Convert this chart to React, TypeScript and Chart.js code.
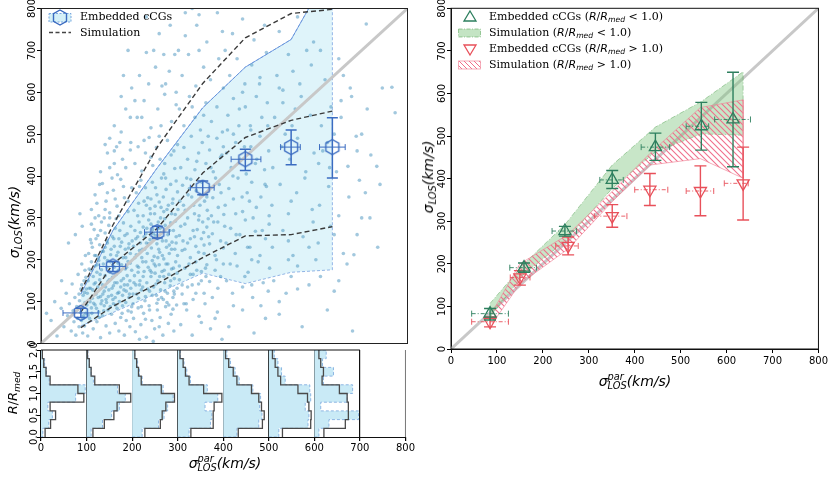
import { useEffect, useRef } from 'react';
import { Chart, registerables } from 'chart.js';

Chart.register(...registerables);
Chart.defaults.font.family = 'DejaVu Sans';
Chart.defaults.color = '#000';

// ---- left panel: embedded cCGs per sigma_par bin ----
const binX = [87, 157, 254, 353, 446, 546, 636];
const obsY = [73, 184, 266, 372, 440, 469, 469];
const obsYLo = [62, 172, 252, 355, 413, 427, 395];
const obsYHi = [84, 196, 280, 388, 464, 510, 539];
const obsXLo = [48, 128, 226, 326, 415, 523, 608];
const obsXHi = [125, 185, 280, 378, 480, 566, 664];

// percentile band of the observed groups
const bandLo = [42, 74, 120, 168, 143, 170, 176];
const bandHi = [118, 270, 420, 563, 660, 726, 900];

// simulation percentiles (dashed)
const simLo = [38, 89, 143, 205, 257, 260, 279];
const simMid = [75, 190, 275, 407, 492, 533, 555];
const simHi = [124, 283, 469, 621, 730, 788, 798];

// individual groups (sigma_par, sigma_los)
const groups: [number, number][] = [
  [12,72],[22,55],[35,18],[44,84],[50,40],[55,120],[58,66],[62,95],[66,30],[68,142],[70,78],[72,52],[74,110],[76,20],[78,88],[80,60],[81,165],[83,40],[84,102],[86,74],[87,130],[88,55],[89,190],[90,88],[91,25],[92,115],[93,66],[94,150],[95,42],[96,98],[97,210],[98,72],[99,130],[60,240],[75,260],[85,310],[45,150],[30,100],[90,280],[96,175],
  [102,18],[106,60],[110,85],[114,35],[118,92],[122,52],[126,75],[130,14],[134,66],[138,90],[142,42],[146,80],[150,25],[154,70],[158,95],[162,48],[166,84],[170,30],[174,62],[178,90],[182,20],[186,55],[190,78],[194,40],[198,88],
  [101,120],[103,150],[105,178],[108,132],[110,195],[112,108],[114,160],[116,142],[118,185],[120,118],[122,170],[124,135],[126,198],[128,152],[130,112],[132,176],[134,140],[136,190],[138,125],[140,162],[142,105],[144,182],[146,148],[148,128],[150,170],[152,195],[154,115],[156,158],[158,138],[160,182],[162,110],[164,165],[166,145],[168,192],[170,122],[172,172],[174,135],[176,188],[178,115],[180,155],[182,140],[184,178],[186,125],[188,162],[190,196],[192,110],[194,150],[196,132],[198,175],[157,185],[145,198],[133,102],
  [104,215],[108,248],[112,230],[116,272],[120,210],[124,258],[128,236],[132,290],[136,220],[140,264],[144,245],[148,282],[152,212],[156,255],[160,232],[164,298],[168,218],[172,270],[176,242],[180,288],[184,225],[188,262],[192,238],[196,280],[150,300],[185,205],[125,205],[170,250],[140,230],[195,215],[110,285],[162,275],
  [110,320],[118,355],[126,305],[134,382],[142,340],[150,312],[158,366],[166,328],[174,392],[182,348],[190,315],[198,372],[138,300],[170,305],[155,395],[190,340],[122,335],[180,375],[145,360],[162,345],
  [130,410],[145,455],[160,430],[172,480],[185,420],[195,462],[150,490],[178,440],[165,470],[140,475],[167,403],[196,480],
  [160,520],[185,560],[175,590],[195,540],[180,640],[190,700],
  [202,60],[206,28],[212,85],[218,45],[224,72],[230,15],[236,90],[242,55],[248,35],[254,80],[260,62],[266,20],[272,88],[278,48],[284,70],[290,30],[296,92],[215,10],[245,5],[275,98],[258,40],[228,58],[288,82],
  [201,118],[204,162],[207,140],[210,185],[213,108],[216,150],[219,128],[222,195],[225,172],[228,112],[231,145],[234,182],[237,125],[240,160],[243,198],[246,135],[249,168],[252,115],[255,150],[258,188],[261,128],[264,172],[267,105],[270,145],[273,190],[276,120],[279,165],[282,138],[285,178],[288,110],[291,155],[294,195],[297,132],[256,105],[238,175],[268,160],[212,170],[222,135],[290,125],[250,185],
  [202,232],[205,270],[208,212],[211,255],[214,290],[217,240],[220,205],[223,278],[226,225],[229,262],[232,215],[235,295],[238,248],[241,228],[244,272],[247,208],[250,258],[253,238],[256,290],[259,218],[262,265],[265,245],[268,202],[271,282],[274,230],[277,260],[280,215],[283,288],[286,242],[289,270],[292,225],[295,255],[298,210],[260,275],[246,250],[230,240],[215,222],[280,235],[270,298],[255,205],[240,285],[225,255],
  [203,318],[208,360],[213,335],[218,390],[223,305],[228,372],[233,348],[238,322],[243,385],[248,310],[253,355],[258,338],[263,395],[268,315],[273,368],[278,330],[283,380],[288,345],[293,308],[298,362],[250,372],[262,325],[240,345],[272,395],[285,310],[215,375],[230,330],[295,388],
  [205,430],[212,470],[220,412],[228,455],[236,492],[244,425],[252,468],[260,440],[268,405],[276,485],[284,450],[292,418],[298,475],[240,445],[258,495],[225,485],[270,430],[290,460],
  [210,540],[225,580],[240,515],[255,560],[270,595],[285,530],[295,570],[262,520],[215,640],[230,695],[250,660],[264,615],[272,620],[292,690],[230,780],[282,760],
  [305,45],[318,80],[330,20],[345,65],[358,95],[370,35],[385,75],[395,10],[350,50],[312,95],
  [302,152],[308,118],[314,180],[320,135],[326,165],[332,105],[338,195],[344,142],[350,172],[356,120],[362,188],[368,148],[374,110],[380,175],[386,132],[392,160],[398,190],[360,160],[330,140],[340,175],
  [302,258],[308,222],[314,285],[320,240],[326,205],[332,270],[338,232],[344,295],[350,250],[356,215],[362,278],[368,238],[374,262],[380,210],[386,290],[392,245],[398,228],[335,255],[365,298],[310,245],[355,265],
  [303,340],[309,378],[315,318],[321,355],[327,392],[333,330],[339,365],[345,305],[351,385],[357,340],[363,318],[369,372],[375,348],[381,395],[387,325],[393,360],[399,308],[324,370],[372,305],[348,355],[318,395],
  [305,420],[312,468],[320,440],[328,495],[336,415],[344,455],[352,480],[360,430],[368,462],[376,410],[384,490],[392,445],[398,470],[340,435],[365,495],
  [302,560],[312,520],[324,590],[336,540],[348,510],[360,575],[372,530],[384,565],[396,505],[330,565],[355,545],
  [308,640],[322,690],[338,615],[355,660],[370,630],[388,680],[345,700],[398,610],[315,735],[340,760],[362,720],[385,790],[396,745],[315,790],[345,785],
  [410,40],[440,80],[465,25],[490,60],
  [405,150],[418,120],[428,185],[440,135],[452,170],[462,110],[474,195],[485,145],[496,125],[445,160],
  [404,240],[414,275],[424,215],[434,260],[446,295],[456,230],[468,268],[478,210],[490,250],[498,285],[460,200],
  [402,330],[410,370],[420,345],[430,395],[440,315],[450,360],[460,385],[470,325],[480,350],[492,375],[498,305],[425,310],[455,340],
  [405,455],[415,420],[425,480],[435,440],[448,405],[458,470],[468,430],[478,495],[488,415],[497,460],[420,500],
  [408,545],[420,585],[432,520],[446,565],[458,510],[470,590],[482,540],[494,575],[440,600],
  [412,640],[428,680],[445,620],[460,665],[478,635],[492,695],[402,700],[418,740],[440,775],[465,725],[488,760],
  [520,70],[570,40],[508,150],[535,120],[560,185],[585,140],[546,160],
  [505,230],[528,270],[550,210],[572,255],[594,290],[540,245],
  [504,330],[522,380],[540,310],[558,360],[576,395],[592,320],[546,340],
  [506,420],[525,470],[543,440],[560,490],[578,410],[596,455],[533,500],
  [510,540],[528,575],[548,520],[568,590],[588,545],[555,560],
  [515,640],[540,690],[565,620],[590,665],[528,605],[520,745],[560,780],[595,720],
  [625,80],[680,30],[610,160],[640,125],[668,190],[683,212],
  [605,240],[632,280],[660,215],[690,260],[608,330],[628,375],[650,305],[672,350],[695,390],
  [606,430],[625,480],[645,410],[670,423],[688,495],[612,520],[633,565],[655,540],[678,590],[640,500],
  [620,630],[650,680],[675,610],
  [708,360],[733,423],[712,560],[745,610],[766,612],[773,551],[710,763],[718,300],[735,230],
  [83,118],[85,88],[89,140],[92,60],[95,122],[98,158],[100,92],[103,68],[105,132],[107,100],[109,175],[111,72],[113,128],[115,96],[117,210],[119,145],[121,84],[123,188],[125,110],[127,62],[129,165],[131,95],[133,220],[135,118],[137,78],[139,205],[141,135],[143,98],[145,240],[147,112],[149,152],[151,88],[153,225],[155,132],[157,105],[159,250],[161,145],[163,92],[165,210],[167,120],[169,175],[171,100],[173,232],[175,150],[177,72],[179,205],[181,128],[183,258],[185,98],[187,182],[189,140],[191,228],[193,118],[195,192],[197,75],[199,245],
  [201,95],[203,145],[205,205],[207,250],[209,118],[211,305],[213,182],[215,140],[217,265],[219,88],[221,225],[223,160],[225,340],[227,102],[229,195],[231,275],[233,130],[235,238],[237,80],[239,310],[241,170],[243,115],[245,262],[247,190],[249,328],[251,142],[253,96],[255,275],[257,225],[259,160],[261,300],[263,110],[265,210],[267,350],[269,175],[271,125],[273,245],[275,320],[277,190],[279,92],[281,270],[283,150],[285,225],[287,335],[289,180],[291,118],[293,292],[295,240],[297,168],[299,320],
  [302,185],[305,280],[308,140],[311,330],[314,225],[317,95],[320,300],[323,190],[326,250],[329,350],[332,165],[335,310],[338,120],[341,272],[344,218],[347,330],[350,150],[353,290],[356,235],[359,180],
  [362,350],[366,255],[371,420],[377,290],[383,200],[389,380],[395,450],[401,280],[407,510],[413,190],[419,400],[426,260],[433,560],[439,350],[444,470],[451,230],[457,520],[463,300],[471,440],[477,620],[483,270],[489,380],[495,520],[499,180],
  [120,250],[130,270],[140,320],[110,240],[118,300],[128,380],[150,420],[160,460],[175,505],[198,610],[205,580],[220,540],[235,620],[246,700],[258,740],[268,690],[280,650],[300,700],[330,800],[295,600],
  [380,60],[420,90],[460,140],[520,100],[560,130],[600,200],[640,260],[700,300],[650,150],[480,90],[540,200],[585,230],
  [520,610],[550,650],[580,700],[610,700],[660,640],[700,500],[720,450],[740,380],[690,460],[655,580],[615,460],[630,420],
];

// ---- R/Rmed histograms, one per 100 km/s bin ----
const rEdges = [0, 0.2, 0.4, 0.6, 0.8, 1.0, 1.2, 1.4, 1.6, 1.8, 2.0];
const histObs = [
  [4, 17, 25, 15, 76, 97, 18, 12, 8, 3],
  [10, 35, 55, 72, 85, 68, 15, 10, 6, 3],
  [22, 58, 70, 78, 90, 68, 22, 16, 12, 6],
  [25, 72, 75, 60, 88, 65, 28, 20, 14, 6],
  [30, 78, 85, 80, 82, 65, 35, 26, 16, 8],
  [22, 86, 88, 80, 92, 90, 36, 28, 20, 12],
  [10, 32, 97, 14, 72, 84, 20, 42, 18, 26],
];
const histSim = [
  [9, 21, 32, 20, 94, 81, 20, 11, 6, 3],
  [14, 39, 60, 67, 97, 72, 18, 10, 6, 2],
  [28, 62, 66, 74, 93, 64, 20, 14, 10, 6],
  [29, 78, 78, 80, 97, 57, 25, 17, 12, 5],
  [33, 86, 90, 84, 78, 62, 30, 22, 12, 5],
  [30, 92, 93, 88, 85, 64, 26, 20, 14, 8],
  [21, 68, 76, 74, 72, 55, 17, 20, 14, 10],
];

// ---- right panel ----
const inX = [85, 159, 248, 351, 445, 545, 614];
const inY = [83, 191, 277, 397, 474, 523, 539];
const inYLo = [68, 180, 265, 377, 443, 467, 428];
const inYHi = [95, 202, 288, 419, 507, 579, 650];
const inXLo = [45, 128, 220, 324, 414, 512, 574];
const inXHi = [125, 186, 273, 375, 476, 561, 652];

const outX = [85, 150, 255, 351, 433, 543, 636];
const outY = [64, 168, 242, 312, 374, 371, 389];
const outYLo = [52, 150, 221, 286, 337, 313, 303];
const outYHi = [75, 184, 263, 339, 412, 430, 474];
const outXLo = [45, 129, 228, 312, 400, 512, 595];
const outXHi = [125, 172, 277, 383, 472, 572, 647];

const simInX = [85, 159, 248, 351, 445, 545, 636];
const simInLo = [75, 176, 253, 377, 463, 505, 502];
const simInHi = [107, 200, 292, 432, 521, 581, 651];
const simOutX = [90, 150, 255, 351, 433, 543, 636];
const simOutLo = [60, 153, 235, 346, 432, 447, 401];
const simOutHi = [87, 200, 269, 370, 459, 567, 585];

const sigmaTicks = [0, 100, 200, 300, 400, 500, 600, 700, 800];
const rTicks = [0, 0.5, 1.0, 1.5, 2.0];

const BLUE = '#3b6cc1';
const GREEN = '#2d7f5e';
const RED = '#e8505a';

const pts = (xs: number[], ys: number[]) => xs.map((x, i) => ({ x, y: ys[i] }));
const band = (xs: number[], lo: number[], hi: number[]) => [
  ...pts(xs, hi),
  ...pts(xs, lo).reverse(),
];
const vBars = (xs: number[], lo: number[], hi: number[]) =>
  xs.flatMap((x, i) => [{ x, y: lo[i] }, { x, y: hi[i] }, { x, y: null }]);
const hBars = (ys: number[], lo: number[], hi: number[]) =>
  ys.flatMap((y, i) => [{ x: lo[i], y }, { x: hi[i], y }, { x: null, y }]);
const caps = (xs: number[], lo: number[], hi: number[]) => [...pts(xs, lo), ...pts(xs, hi)];
const hCaps = (ys: number[], lo: number[], hi: number[]) => [...pts(lo, ys), ...pts(hi, ys)];

const line = (data: any[], color: string, width: number, order: number, dash: number[] = []) => ({
  data,
  showLine: true,
  borderColor: color,
  borderWidth: width,
  borderDash: dash,
  pointRadius: 0,
  fill: false,
  order,
});
const capSet = (data: any[], color: string, r: number, rot: number, w: number, order: number) => ({
  data,
  pointStyle: 'line',
  rotation: rot,
  pointRadius: r,
  borderColor: color,
  borderWidth: w,
  order,
});

const framePlugin = {
  id: 'frame',
  afterDatasetsDraw(chart: any, _a: any, opts: any) {
    const { ctx, chartArea: a, scales } = chart;
    ctx.save();
    ctx.lineWidth = 1;
    ctx.strokeStyle = opts.color || '#000';
    if (opts.topTo != null) {
      ctx.beginPath();
      ctx.moveTo(a.left, a.top);
      ctx.lineTo(scales.x.getPixelForValue(opts.topTo), a.top);
      ctx.stroke();
      ctx.strokeStyle = opts.rightColor;
      ctx.beginPath();
      ctx.moveTo(a.right, a.top);
      ctx.lineTo(a.right, a.bottom);
      ctx.stroke();
    } else {
      ctx.strokeRect(a.left, a.top, a.right - a.left, a.bottom - a.top);
    }
    ctx.restore();
  },
};

const setTicks = (arr: number[]) => (s: any) => {
  s.ticks = arr.map((value) => ({ value }));
};

const tickGrid = { drawOnChartArea: false, drawTicks: true, tickLength: 4, tickColor: '#000' };
const yTickFont = { size: 10 };

function makeHexagon() {
  const c = document.createElement('canvas');
  c.width = 18;
  c.height = 18;
  const g = c.getContext('2d')!;
  g.strokeStyle = BLUE;
  g.lineWidth = 1.4;
  g.beginPath();
  for (let k = 0; k < 6; k++) {
    const a = -Math.PI / 2 + (k * Math.PI) / 3;
    const px = 9 + 7.5 * Math.cos(a);
    const py = 9 + 7.5 * Math.sin(a);
    if (k === 0) g.moveTo(px, py);
    else g.lineTo(px, py);
  }
  g.closePath();
  g.stroke();
  return c;
}

function makeHatch(ctx: CanvasRenderingContext2D) {
  const s = 6;
  const c = document.createElement('canvas');
  c.width = s;
  c.height = s;
  const g = c.getContext('2d')!;
  g.strokeStyle = '#f0708c';
  g.lineWidth = 1.1;
  g.beginPath();
  g.moveTo(-1, -1);
  g.lineTo(s + 1, s + 1);
  g.moveTo(-1, s - 1);
  g.lineTo(1, s + 1);
  g.moveTo(s - 1, -1);
  g.lineTo(s + 1, 1);
  g.stroke();
  return ctx.createPattern(c, 'repeat')!;
}

const ital: React.CSSProperties = { fontFamily: 'DejaVu Sans', fontStyle: 'italic' };
const subSt: React.CSSProperties = { fontSize: '0.7em', verticalAlign: '-0.3em', lineHeight: 0 };

function SigmaPar() {
  return (
    <span style={ital}>
      σ
      <span style={{ display: 'inline-block', fontSize: '0.7em', lineHeight: '0.95em', verticalAlign: '-0.35em' }}>
        <span style={{ display: 'block' }}>par</span>
        <span style={{ display: 'block' }}>LOS</span>
      </span>
      (km/s)
    </span>
  );
}

function Rmed() {
  return (
    <span style={ital}>
      R<span style={{ fontStyle: 'normal' }}>/</span>R<sub style={subSt}>med</sub>
    </span>
  );
}

export default function App() {
  const mainRef = useRef<HTMLCanvasElement>(null);
  const histRef = useRef<HTMLCanvasElement>(null);
  const rightRef = useRef<HTMLCanvasElement>(null);

  useEffect(() => {
    if (!mainRef.current || !histRef.current || !rightRef.current) return;
    const hex = makeHexagon();

    const main = new Chart(mainRef.current, {
      type: 'scatter',
      data: {
        datasets: [
          {
            data: band(binX, bandLo, bandHi),
            showLine: true,
            fill: 'shape',
            backgroundColor: 'rgba(170,225,242,0.38)',
            borderColor: 'rgba(90,140,215,0.8)',
            borderWidth: 0.8,
            borderDash: [3, 2],
            pointRadius: 0,
            order: 9,
          },
          line(pts(binX, bandHi), 'rgba(80,130,215,0.9)', 0.8, 8),
          {
            data: groups.map(([x, y]) => ({ x, y })),
            pointRadius: 1.8,
            backgroundColor: 'rgba(70,145,190,0.5)',
            borderWidth: 0,
            order: 7,
          },
          line([{ x: 0, y: 0 }, { x: 800, y: 800 }], '#c8c8c8', 3, 6),
          line(pts(binX, simHi), '#3a3a3a', 1.4, 5, [5, 3]),
          line(pts(binX, simMid), '#3a3a3a', 1.4, 5, [5, 3]),
          line(pts(binX, simLo), '#3a3a3a', 1.4, 5, [5, 3]),
          line(hBars(obsY, obsXLo, obsXHi), BLUE, 1, 3),
          capSet(hCaps(obsY, obsXLo, obsXHi), BLUE, 3, 90, 1, 3),
          line(vBars(binX, obsYLo, obsYHi), BLUE, 1.5, 2),
          capSet(caps(binX, obsYLo, obsYHi), BLUE, 5.5, 0, 1.5, 2),
          { data: pts(binX, obsY), pointStyle: hex, pointRadius: 7.5, order: 1 },
        ] as any,
      },
      options: {
        animation: false,
        responsive: false,
        layout: { padding: { top: 5, right: 7, bottom: 4 } },
        plugins: { legend: { display: false }, tooltip: { enabled: false }, frame: { color: '#222' } } as any,
        scales: {
          x: { type: 'linear', min: 0, max: 800, display: false },
          y: {
            type: 'linear',
            min: 0,
            max: 800,
            afterBuildTicks: setTicks(sigmaTicks),
            afterFit: (s: any) => { s.width = 41; },
            grid: tickGrid,
            border: { color: '#222' },
            ticks: { minRotation: 90, maxRotation: 90, crossAlign: 'center', padding: -5, font: yTickFont },
          },
        },
      },
      plugins: [framePlugin],
    });

    const histSets: any[] = [];
    histObs.forEach((h, k) => {
      const o = k * 100;
      histSets.push({
        data: [
          { x: o, y: 0 },
          ...h.flatMap((v, i) => [{ x: o + v, y: rEdges[i] }, { x: o + v, y: rEdges[i + 1] }]),
          { x: o, y: 2 },
        ],
        showLine: true,
        fill: 'shape',
        backgroundColor: '#c9eaf6',
        borderColor: '#8db6e3',
        borderWidth: 1,
        borderDash: [3, 2],
        pointRadius: 0,
        order: 5,
      });
      histSets.push(
        line(
          histSim[k].flatMap((v, i) => [{ x: o + v, y: rEdges[i] }, { x: o + v, y: rEdges[i + 1] }]),
          '#4a4a4a',
          1.3,
          3,
        ),
      );
    });

    const hist = new Chart(histRef.current, {
      type: 'scatter',
      data: { datasets: histSets },
      options: {
        animation: false,
        responsive: false,
        layout: { padding: { top: 10, right: 7 } },
        plugins: {
          legend: { display: false },
          tooltip: { enabled: false },
          frame: { color: '#111', topTo: 700, rightColor: '#777' },
        } as any,
        scales: {
          x: {
            type: 'linear',
            min: 0,
            max: 800,
            afterBuildTicks: setTicks(sigmaTicks),
            afterFit: (s: any) => { s.height = 23; },
            grid: {
              drawOnChartArea: true,
              drawTicks: true,
              tickLength: 4,
              tickColor: '#000',
              lineWidth: 1.2,
              color: (c: any) => (c.tick && c.tick.value <= 700 ? '#111' : 'rgba(0,0,0,0)'),
            },
            border: { color: '#111' },
            ticks: { padding: 1, font: { size: 10 } },
          },
          y: {
            type: 'linear',
            min: 0,
            max: 2,
            afterBuildTicks: setTicks(rTicks),
            afterFit: (s: any) => { s.width = 41; },
            grid: tickGrid,
            border: { color: '#111' },
            ticks: {
              minRotation: 90,
              maxRotation: 90,
              crossAlign: 'center',
              padding: -5,
              font: yTickFont,
              callback: (v: any) => Number(v).toFixed(1),
            },
          },
        },
      },
      plugins: [framePlugin],
    });

    const hatch = makeHatch(rightRef.current.getContext('2d')!);
    const right = new Chart(rightRef.current, {
      type: 'scatter',
      data: {
        datasets: [
          line([{ x: 0, y: 0 }, { x: 800, y: 800 }], '#c8c8c8', 3, 9),
          {
            data: band(simInX, simInLo, simInHi),
            showLine: true,
            fill: 'shape',
            backgroundColor: 'rgba(125,195,125,0.42)',
            borderColor: 'rgba(90,165,90,0.6)',
            borderWidth: 0.8,
            borderDash: [5, 2, 1, 2],
            pointRadius: 0,
            order: 8,
          },
          {
            data: band(simOutX, simOutLo, simOutHi),
            showLine: true,
            fill: 'shape',
            backgroundColor: hatch,
            borderColor: 'rgba(240,130,150,0.8)',
            borderWidth: 0.8,
            pointRadius: 0,
            order: 7,
          },
          line(hBars(outY, outXLo, outXHi), RED, 0.9, 4, [4, 2, 1, 2]),
          capSet(hCaps(outY, outXLo, outXHi), RED, 3, 90, 0.9, 4),
          line(vBars(outX, outYLo, outYHi), RED, 1.4, 4),
          capSet(caps(outX, outYLo, outYHi), RED, 6, 0, 1.4, 4),
          {
            data: pts(outX, outY),
            pointStyle: 'triangle',
            rotation: 180,
            pointRadius: 7,
            borderColor: RED,
            backgroundColor: 'rgba(0,0,0,0)',
            borderWidth: 1.3,
            order: 3,
          },
          line(hBars(inY, inXLo, inXHi), GREEN, 0.9, 2, [4, 2, 1, 2]),
          capSet(hCaps(inY, inXLo, inXHi), GREEN, 3, 90, 0.9, 2),
          line(vBars(inX, inYLo, inYHi), GREEN, 1.4, 2),
          capSet(caps(inX, inYLo, inYHi), GREEN, 6, 0, 1.4, 2),
          {
            data: pts(inX, inY),
            pointStyle: 'triangle',
            pointRadius: 7,
            borderColor: GREEN,
            backgroundColor: 'rgba(0,0,0,0)',
            borderWidth: 1.3,
            order: 1,
          },
        ] as any,
      },
      options: {
        animation: false,
        responsive: false,
        layout: { padding: { top: 5, right: 11 } },
        plugins: { legend: { display: false }, tooltip: { enabled: false }, frame: { color: '#111' } } as any,
        scales: {
          x: {
            type: 'linear',
            min: 0,
            max: 800,
            afterBuildTicks: setTicks(sigmaTicks),
            afterFit: (s: any) => { s.height = 23; },
            grid: tickGrid,
            border: { color: '#111' },
            ticks: { padding: 2, font: { size: 10 } },
          },
          y: {
            type: 'linear',
            min: 0,
            max: 800,
            afterBuildTicks: setTicks(sigmaTicks),
            afterFit: (s: any) => { s.width = 31; },
            grid: tickGrid,
            border: { color: '#111' },
            ticks: { minRotation: 90, maxRotation: 90, crossAlign: 'center', padding: -5, font: yTickFont },
          },
        },
      },
      plugins: [framePlugin],
    });

    return () => {
      main.destroy();
      hist.destroy();
      right.destroy();
    };
  }, []);

  const abs = (left: number, top: number, extra: React.CSSProperties = {}): React.CSSProperties => ({
    position: 'absolute',
    left,
    top,
    whiteSpace: 'nowrap',
    ...extra,
  });
  const serif: React.CSSProperties = { fontFamily: 'DejaVu Serif', fontSize: 11, lineHeight: '14px' };

  return (
    <div style={{ position: 'absolute', left: 0, top: 0, width: 830, height: 480, background: '#fff', overflow: 'hidden' }}>
      <canvas ref={mainRef} width={416} height={352} style={abs(0, 0)} />
      <canvas ref={histRef} width={416} height={120} style={abs(0, 340)} />
      <canvas ref={rightRef} width={410} height={372} style={abs(420, 0)} />

      {/* axis titles */}
      <div style={abs(14, 222, { ...ital, fontSize: 14, transform: 'translate(-50%,-50%) rotate(-90deg)' })}>
        σ<sub style={subSt}>LOS</sub>(km/s)
      </div>
      <div style={abs(13, 393, { fontSize: 13, transform: 'translate(-50%,-50%) rotate(-90deg)' })}>
        <Rmed />
      </div>
      <div style={abs(225, 463, { fontSize: 14, transform: 'translate(-50%,-50%)' })}>
        <SigmaPar />
      </div>
      <div style={abs(428, 177, { ...ital, fontSize: 14, transform: 'translate(-50%,-50%) rotate(-90deg)' })}>
        σ<sub style={subSt}>LOS</sub>(km/s)
      </div>
      <div style={abs(635, 381, { fontSize: 14, transform: 'translate(-50%,-50%)' })}>
        <SigmaPar />
      </div>

      {/* left legend */}
      <svg style={abs(46, 8)} width={30} height={32}>
        <rect x={3} y={5.5} width={22} height={8.5} fill="rgba(170,225,242,0.5)" stroke="#7aa7df" strokeWidth={1} strokeDasharray="2 1.5" />
        <polygon points="14,2 20.5,5.75 20.5,13.25 14,17 7.5,13.25 7.5,5.75" fill="none" stroke={BLUE} strokeWidth={1.4} />
        <line x1={3} y1={24.5} x2={25} y2={24.5} stroke="#444" strokeWidth={1.3} strokeDasharray="4 2.5" />
      </svg>
      <div style={abs(80, 10, serif)}>Embedded cCGs</div>
      <div style={abs(80, 25.5, serif)}>Simulation</div>

      {/* right legend */}
      <svg style={abs(455, 7)} width={30} height={66}>
        <defs>
          <pattern id="hatch" width={5} height={5} patternUnits="userSpaceOnUse">
            <path d="M-1,-1 L6,6 M-1,4 L1,6 M4,-1 L6,1" stroke="#f0708c" strokeWidth={1} />
          </pattern>
        </defs>
        <polygon points="15,4 21,14 9,14" fill="none" stroke={GREEN} strokeWidth={1.3} />
        <rect x={3.5} y={22} width={22} height={8} fill="rgba(125,195,125,0.45)" stroke="rgba(90,165,90,0.7)" strokeWidth={0.8} strokeDasharray="4 1.5 1 1.5" />
        <polygon points="15,48 21,38 9,38" fill="none" stroke={RED} strokeWidth={1.3} />
        <rect x={3.5} y={54} width={22} height={8} fill="url(#hatch)" stroke="rgba(240,130,150,0.8)" strokeWidth={0.8} />
      </svg>
      <div style={abs(489, 10, serif)}>
        Embedded cCGs (<Rmed /> <span style={{ fontFamily: 'DejaVu Sans' }}>&lt;</span> 1.0)
      </div>
      <div style={abs(489, 26, serif)}>
        Simulation (<Rmed /> <span style={{ fontFamily: 'DejaVu Sans' }}>&lt;</span> 1.0)
      </div>
      <div style={abs(489, 42, serif)}>
        Embedded cCGs (<Rmed /> <span style={{ fontFamily: 'DejaVu Sans' }}>&gt;</span> 1.0)
      </div>
      <div style={abs(489, 58, serif)}>
        Simulation (<Rmed /> <span style={{ fontFamily: 'DejaVu Sans' }}>&gt;</span> 1.0)
      </div>
    </div>
  );
}
